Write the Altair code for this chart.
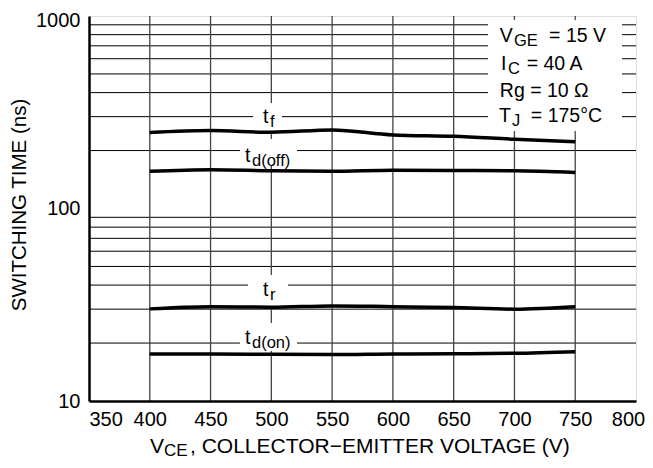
import altair as alt
import pandas as pd

# ---- data ----
vce = [400, 450, 500, 550, 600, 650, 700, 750]
t_f = [248, 254, 249, 256, 241, 237, 229, 222]
t_doff = [156, 159, 157, 156, 158, 157.5, 157, 154]
t_r = [30.1, 30.9, 30.7, 31.2, 30.9, 30.6, 30.0, 30.9]
t_don = [17.55, 17.55, 17.48, 17.42, 17.55, 17.6, 17.7, 18.05]

x_ticks = [350, 400, 450, 500, 550, 600, 650, 700, 750, 800]
y_labels = [10, 100, 1000]
h_grid = [20, 30, 40, 50, 60, 70, 80, 90, 200, 300, 400, 500, 600, 700, 800, 900]
v_grid = [400, 450, 500, 550, 600, 650, 700, 750]

series = {"t_f": t_f, "t_doff": t_doff, "t_r": t_r, "t_don": t_don}
curves = pd.DataFrame(
    [{"vce": v, "t": val, "series": name} for name, vals in series.items() for v, val in zip(vce, vals)]
)

# annotation text (main glyphs and subscripts), positions in data units
main_text = pd.DataFrame([
    {"text": "t", "x": 493.2, "y": 278},
    {"text": "t", "x": 478.3, "y": 174.4},
    {"text": "t", "x": 493.2, "y": 35.1},
    {"text": "t", "x": 478.3, "y": 19.77},
    {"text": "V", "x": 688, "y": 733},
    {"text": "= 15 V", "x": 728.5, "y": 733},
    {"text": "I", "x": 689, "y": 524},
    {"text": "= 40 A", "x": 710.1, "y": 524},
    {"text": "Rg = 10 \u03a9", "x": 688, "y": 379.6},
    {"text": "T", "x": 687.3, "y": 281.4},
    {"text": "= 175\u00b0C", "x": 713.5, "y": 281.4},
])
sub_text = pd.DataFrame([
    {"text": "f", "x": 498.9, "y": 278},
    {"text": "d(off)", "x": 484.1, "y": 174.4},
    {"text": "r", "x": 498.9, "y": 35.1},
    {"text": "d(on)", "x": 484.1, "y": 19.77},
    {"text": "GE", "x": 699.6, "y": 733},
    {"text": "C", "x": 694.7, "y": 524},
    {"text": "J", "x": 698, "y": 281.4},
])
boxes = pd.DataFrame([
    {"x1": 484.9, "x2": 508.8, "y1": 353, "y2": 253},
    {"x1": 474.2, "x2": 521.1, "y1": 229.6, "y2": 168.3},
    {"x1": 480.8, "x2": 513.7, "y1": 45.1, "y2": 31.2},
    {"x1": 474.2, "x2": 521.1, "y1": 25.4, "y2": 18.2},
    {"x1": 678.3, "x2": 788.5, "y1": 953, "y2": 253},
])

FONT = "Liberation Sans"
W, H = 547, 385

xs = alt.Scale(domain=[350, 800], nice=False, zero=False)
ys = alt.Scale(type="log", domain=[10, 1000], nice=False)

x_axis = alt.Axis(
    values=x_ticks, title=None, grid=False, ticks=False, tickSize=0, labelPadding=8,
    labelFontSize=20, labelFont=FONT, labelColor="black", labelFlush=False,
    labelAlign={"condition": {"test": "datum.value == 350", "value": "left"}, "value": "center"},
    labelOffset={"condition": {"test": "datum.value == 800", "value": -8}, "value": 0},
    domainColor="black", domainWidth=2.5, zindex=1,
)
y_axis = alt.Axis(
    values=y_labels, title=None, grid=False, ticks=False, tickSize=0, labelPadding=9,
    labelFontSize=20, labelFont=FONT, labelColor="black", labelFlush=False,
    labelOffset={"condition": {"test": "datum.value == 1000", "value": 4}, "value": 0},
    labelOverlap=False, format="d", domainColor="black", domainWidth=2.5, zindex=1,
)

hgrid = alt.Chart(pd.DataFrame({"g": h_grid})).mark_rule(color="black", strokeWidth=1).encode(
    y=alt.Y("g:Q", scale=ys, axis=y_axis)
)
vgrid = alt.Chart(pd.DataFrame({"g": v_grid})).mark_rule(color="#444444", strokeWidth=1.3).encode(
    x=alt.X("g:Q", scale=xs, axis=x_axis)
)
rects = alt.Chart(boxes).mark_rect(color="white").encode(
    x=alt.X("x1:Q", scale=xs, axis=x_axis), x2="x2:Q",
    y=alt.Y("y1:Q", scale=ys, axis=y_axis), y2="y2:Q",
)
lines = alt.Chart(curves).mark_line(color="black", strokeWidth=3.5, interpolate="monotone").encode(
    x=alt.X("vce:Q", scale=xs, axis=x_axis),
    y=alt.Y("t:Q", scale=ys, axis=y_axis),
    detail="series:N",
)
mains = alt.Chart(main_text).mark_text(
    font=FONT, fontSize=19.5, color="black", align="left", baseline="alphabetic"
).encode(
    x=alt.X("x:Q", scale=xs, axis=x_axis), y=alt.Y("y:Q", scale=ys, axis=y_axis), text="text:N"
)
subs = alt.Chart(sub_text).mark_text(
    font=FONT, fontSize=16.5, color="black", align="left", baseline="alphabetic", dy=4
).encode(
    x=alt.X("x:Q", scale=xs, axis=x_axis), y=alt.Y("y:Q", scale=ys, axis=y_axis), text="text:N"
)

# axis titles
ytitle = alt.Chart(pd.DataFrame({"text": ["SWITCHING TIME (ns)"]})).mark_text(
    font=FONT, fontSize=20.5, color="black", angle=270, align="center", baseline="middle"
).encode(x=alt.value(-69), y=alt.value(189), text="text:N")
xt_main = alt.Chart(pd.DataFrame({"text": ["V"]})).mark_text(
    font=FONT, fontSize=21, color="black", align="left", baseline="alphabetic"
).encode(x=alt.value(61), y=alt.value(437), text="text:N")
xt_sub = alt.Chart(pd.DataFrame({"text": ["CE"]})).mark_text(
    font=FONT, fontSize=17, color="black", align="left", baseline="alphabetic"
).encode(x=alt.value(75), y=alt.value(440), text="text:N")
xt_rest = alt.Chart(pd.DataFrame({"text": [", COLLECTOR\u2212EMITTER VOLTAGE (V)"]})).mark_text(
    font=FONT, fontSize=21, color="black", align="left", baseline="alphabetic"
).encode(x=alt.value(101), y=alt.value(437), text="text:N")

chart = alt.layer(
    hgrid, vgrid, rects, lines, mains, subs, ytitle, xt_main, xt_sub, xt_rest
).properties(
    width=W, height=H, autosize="none",
    padding={"left": 81, "top": 8, "right": 9, "bottom": 59},
).configure_view(
    stroke="black", strokeWidth=1.5
).configure(background="white")

chart.save("out.html", embed_options={"renderer": "svg", "actions": False})
